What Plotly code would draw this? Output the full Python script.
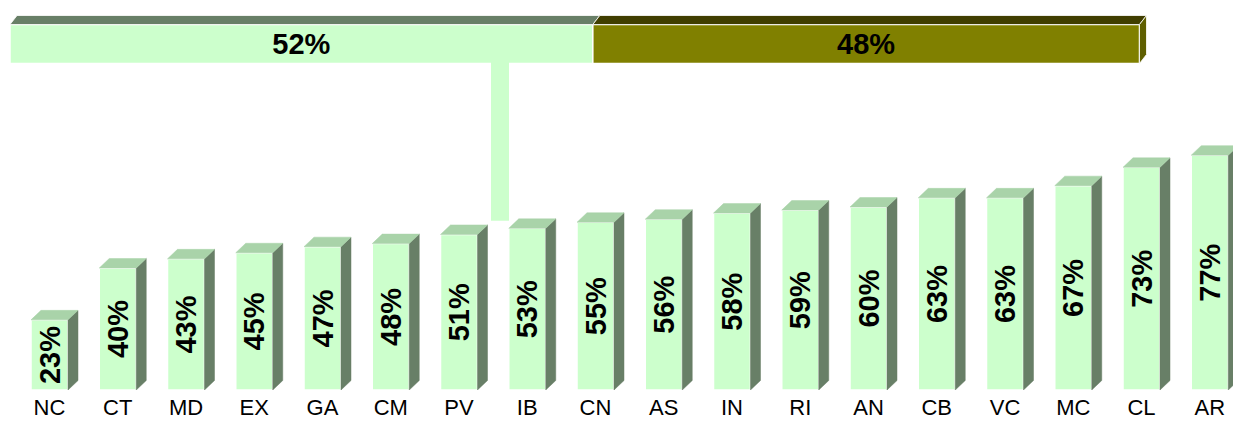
import plotly.graph_objects as go

# ---------------- data ----------------
regions = ["NC", "CT", "MD", "EX", "GA", "CM", "PV", "IB", "CN",
           "AS", "IN", "RI", "AN", "CB", "VC", "MC", "CL", "AR"]
region_values = [23, 40, 43, 45, 47, 48, 51, 53, 55,
                 56, 58, 59, 60, 63, 63, 67, 73, 77]
split_values = [51.6, 48.4]

# ---------------- styling / geometry ----------------
W, H = 1233, 421
MB = 31
PLOT_H = H - MB
PX_PER_CAT = 68.25
PX_PER_PCT = 3.05
X0_PX = 49.5
xr = [-X0_PX / PX_PER_CAT, -X0_PX / PX_PER_CAT + W / PX_PER_CAT]
yr = [0, PLOT_H / PX_PER_PCT]
BAR_W = 37 / PX_PER_CAT
DXB = 10 / PX_PER_CAT
DYB = 9.5 / PX_PER_PCT

# top axis: percent scale
TOP_LEFT_PX = 10
TOP_PX_PER_PCT = 11.295
x2r = [-TOP_LEFT_PX / TOP_PX_PER_PCT, (W - TOP_LEFT_PX) / TOP_PX_PER_PCT]
y2r = [0, PLOT_H]  # one unit = one pixel
TOP_CENTER = PLOT_H - 44
TOP_W = 39
DXT = 7 / TOP_PX_PER_PCT
DYT = 9

GREEN = "#CCFFCC"
GREEN_TOP = "#A9D3A9"
GREEN_SIDE = "#687F67"
OLIVE = "#808000"
OLIVE_TOP = "#403E00"
OLIVE_SIDE = "#5F5F00"

NUM_FONT = "Liberation Sans Narrow, Arial Narrow, Liberation Sans, Arial, sans-serif"
LBL_FONT = "Liberation Sans, Arial, sans-serif"
NUM_SIZE = 29

fig = go.Figure()

# ---------------- bottom bars ----------------
xs = list(range(len(regions)))
fig.add_trace(go.Bar(
    x=xs, y=region_values, width=BAR_W,
    marker=dict(color=GREEN, line=dict(color="white", width=1.5)),
    texttemplate="<b>%{y:.0f}%</b>", textangle=-90,
    textposition="inside", insidetextanchor="middle", constraintext="none",
    textfont=dict(family=NUM_FONT, size=NUM_SIZE, color="black"),
    xaxis="x", yaxis="y", hoverinfo="skip",
))

side_x, side_y, top_x, top_y = [], [], [], []
for i, v in zip(xs, region_values):
    l, r = i - BAR_W / 2, i + BAR_W / 2
    side_x += [r, r + DXB, r + DXB, r, r, None]
    side_y += [0, DYB, v + DYB, v, 0, None]
    top_x += [l, l + DXB, r + DXB, r, l, None]
    top_y += [v, v + DYB, v + DYB, v, v, None]

fig.add_trace(go.Scatter(x=side_x, y=side_y, mode="lines", fill="toself",
                         fillcolor=GREEN_SIDE, line=dict(color=GREEN_SIDE, width=0.5),
                         xaxis="x", yaxis="y", hoverinfo="skip"))
fig.add_trace(go.Scatter(x=top_x, y=top_y, mode="lines", fill="toself",
                         fillcolor=GREEN_TOP, line=dict(color=GREEN_TOP, width=0.5),
                         xaxis="x", yaxis="y", hoverinfo="skip"))

# ---------------- top stacked bar ----------------
seg_colors = [GREEN, OLIVE]
seg_tops = [GREEN_SIDE, OLIVE_TOP]
base = 0
bases = []
for val, col in zip(split_values, seg_colors):
    bases.append(base)
    fig.add_trace(go.Bar(
        x=[val], y=[TOP_CENTER], base=[base], width=TOP_W, orientation="h",
        marker=dict(color=col, line=dict(color="white", width=1.5)),
        texttemplate="<b>%{x:.0f}%</b>", textposition="inside",
        insidetextanchor="middle", constraintext="none",
        textfont=dict(family=NUM_FONT, size=NUM_SIZE, color="black"),
        xaxis="x2", yaxis="y2", hoverinfo="skip",
    ))
    base += val

# connector from top bar down between PV and IB
CONN_L = (491 - TOP_LEFT_PX) / TOP_PX_PER_PCT
CONN_R = (509 - TOP_LEFT_PX) / TOP_PX_PER_PCT
CONN_BOTTOM = PLOT_H - 220.7
top_edge = TOP_CENTER - TOP_W / 2
fig.add_trace(go.Scatter(
    x=[CONN_L, CONN_R, CONN_R, CONN_L, CONN_L],
    y=[CONN_BOTTOM, CONN_BOTTOM, top_edge + 1.5, top_edge + 1.5, CONN_BOTTOM],
    mode="lines", fill="toself", fillcolor=GREEN, line=dict(color=GREEN, width=0),
    xaxis="x2", yaxis="y2", hoverinfo="skip"))

ybot, ytop = TOP_CENTER - TOP_W / 2, TOP_CENTER + TOP_W / 2
for b, val, tc in zip(bases, split_values, seg_tops):
    l, r = b, b + val
    fig.add_trace(go.Scatter(
        x=[l, l + DXT, r + DXT, r, l], y=[ytop, ytop + DYT, ytop + DYT, ytop, ytop],
        mode="lines", fill="toself", fillcolor=tc, line=dict(color="white", width=0.8),
        xaxis="x2", yaxis="y2", hoverinfo="skip"))
end = bases[-1] + split_values[-1]
fig.add_trace(go.Scatter(
    x=[end, end + DXT, end + DXT, end, end], y=[ybot, ybot + DYT, ytop + DYT, ytop, ybot],
    mode="lines", fill="toself", fillcolor=OLIVE_SIDE, line=dict(color="white", width=0.8),
    xaxis="x2", yaxis="y2", hoverinfo="skip"))

fig.update_layout(
    width=W, height=H, margin=dict(l=0, r=0, t=0, b=MB, autoexpand=False),
    paper_bgcolor="white", plot_bgcolor="rgba(0,0,0,0)",
    showlegend=False, hovermode=False, barmode="overlay",
    xaxis=dict(domain=[0, 1], range=xr, tickmode="array", tickvals=xs, ticktext=regions,
               showgrid=False, zeroline=False, showline=False, ticks="",
               ticklabelstandoff=2, automargin=False,
               tickfont=dict(family=LBL_FONT, size=22, color="black"), fixedrange=True),
    yaxis=dict(domain=[0, 1], range=yr, visible=False, fixedrange=True, automargin=False),
    xaxis2=dict(domain=[0, 1], range=x2r, anchor="y2", visible=False, fixedrange=True),
    yaxis2=dict(domain=[0, 1], range=y2r, anchor="x2", visible=False, fixedrange=True),
)

fig.write_html("out.html", config={"displayModeBar": False},
               post_script="document.body.style.margin='0';document.body.style.overflow='hidden';")
